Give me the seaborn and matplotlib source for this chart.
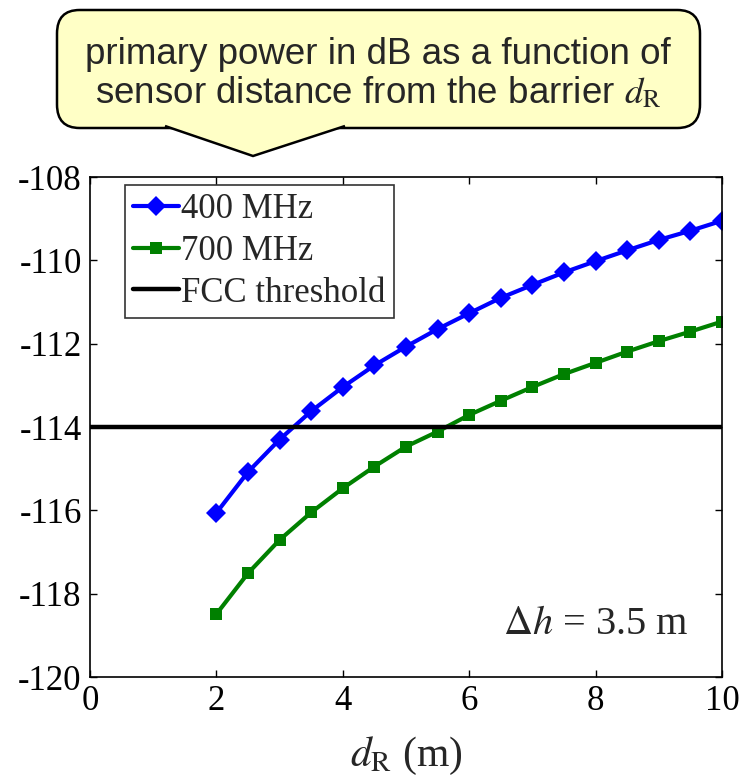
import numpy as np
import pandas as pd
import seaborn as sns
import matplotlib.pyplot as plt
from matplotlib.patches import FancyBboxPatch, Polygon
from matplotlib.lines import Line2D

# data
d_R = [2, 2.5, 3, 3.5, 4, 4.5, 5, 5.5, 6, 6.5, 7, 7.5, 8, 8.5, 9, 9.5, 10]
p_400 = [-116.06, -115.08, -114.30, -113.62, -113.04, -112.52, -112.07, -111.65, -111.27,
         -110.90, -110.59, -110.29, -110.02, -109.76, -109.51, -109.29, -109.05]
p_700 = [-118.49, -117.51, -116.71, -116.05, -115.47, -114.95, -114.47, -114.11, -113.71,
         -113.37, -113.04, -112.73, -112.46, -112.19, -111.94, -111.71, -111.47]
fcc_threshold = -114
y_ticks = [-120, -118, -116, -114, -112, -110, -108]
x_ticks = [0, 2, 4, 6, 8, 10]

df = pd.DataFrame({
    'd_R': d_R * 2,
    'power': p_400 + p_700,
    'band': ['400 MHz'] * len(d_R) + ['700 MHz'] * len(d_R),
})

sns.set_style('ticks')
plt.rcParams['font.family'] = ['Liberation Serif', 'DejaVu Serif']
plt.rcParams['mathtext.fontset'] = 'stix'
plt.rcParams['axes.unicode_minus'] = False

fig = plt.figure(figsize=(7.53, 7.83), dpi=100)
ax = fig.add_axes([90 / 753, 1 - 677 / 783, 632 / 753, 500 / 783])

sns.lineplot(data=df[df.band == '400 MHz'], x='d_R', y='power', color='#0000ff',
             marker='D', markersize=10, markeredgewidth=0, linewidth=3, ax=ax)
sns.lineplot(data=df[df.band == '700 MHz'], x='d_R', y='power', color='#008000',
             marker='s', markersize=9, markeredgewidth=0, linewidth=3, ax=ax)
ax.axhline(fcc_threshold, color='black', linewidth=3.2)

ax.set_xlim(0, 10)
ax.set_ylim(-120, -108)
ax.set_xticks(x_ticks)
ax.set_yticks(y_ticks)
ax.tick_params(direction='in', length=5, width=1, top=True, right=True,
               labelsize=25, pad=6, colors='black')
for s in ax.spines.values():
    s.set_visible(True)
    s.set_linewidth(1.2)
    s.set_color('black')

ax.set_xlabel(r'$d_\mathrm{R}$ (m)', fontsize=30, labelpad=12)
ax.set_ylabel('')

handles = [
    Line2D([], [], color='#0000ff', marker='D', markersize=10, markeredgewidth=0, linewidth=3),
    Line2D([], [], color='#008000', marker='s', markersize=9, markeredgewidth=0, linewidth=3),
    Line2D([], [], color='black', linewidth=3.2),
]
leg = ax.legend(handles, ['400 MHz', '700 MHz', 'FCC threshold'], loc='upper left',
                bbox_to_anchor=(0.055, 0.985), fontsize=25, frameon=True, fancybox=False,
                handlelength=1.3, handletextpad=0.08, borderpad=0.25, labelspacing=0.25,
                borderaxespad=0)
leg.get_frame().set_edgecolor('black')
leg.get_frame().set_linewidth(1.2)

ax.text(0.947, 0.085, r'$\Delta h$ = 3.5 m', transform=ax.transAxes, ha='right',
        va='baseline', fontsize=29)

# callout box on top
W, H = 753, 783
box = FancyBboxPatch((57 / W, 1 - 128 / H), 643 / W, 118 / H,
                     boxstyle='round,pad=0,rounding_size=0.03',
                     transform=fig.transFigure, facecolor='#ffffc6',
                     edgecolor='black', linewidth=1.8, zorder=5)
fig.patches.append(box)
tip = Polygon([(165 / W, 1 - 126 / H), (253 / W, 1 - 156 / H), (345 / W, 1 - 126 / H)],
              closed=False, transform=fig.transFigure, facecolor='#ffffc6',
              edgecolor='black', linewidth=1.8, zorder=6)
fig.patches.append(tip)
fig.text(378 / W, 1 - 74 / H,
         'primary power in dB as a function of\nsensor distance from the barrier $d_\\mathrm{R}$',
         ha='center', va='center', fontsize=26.5, family=['Liberation Sans', 'DejaVu Sans'],
         linespacing=1.1, zorder=7)

fig.savefig('out.png', dpi=100)
